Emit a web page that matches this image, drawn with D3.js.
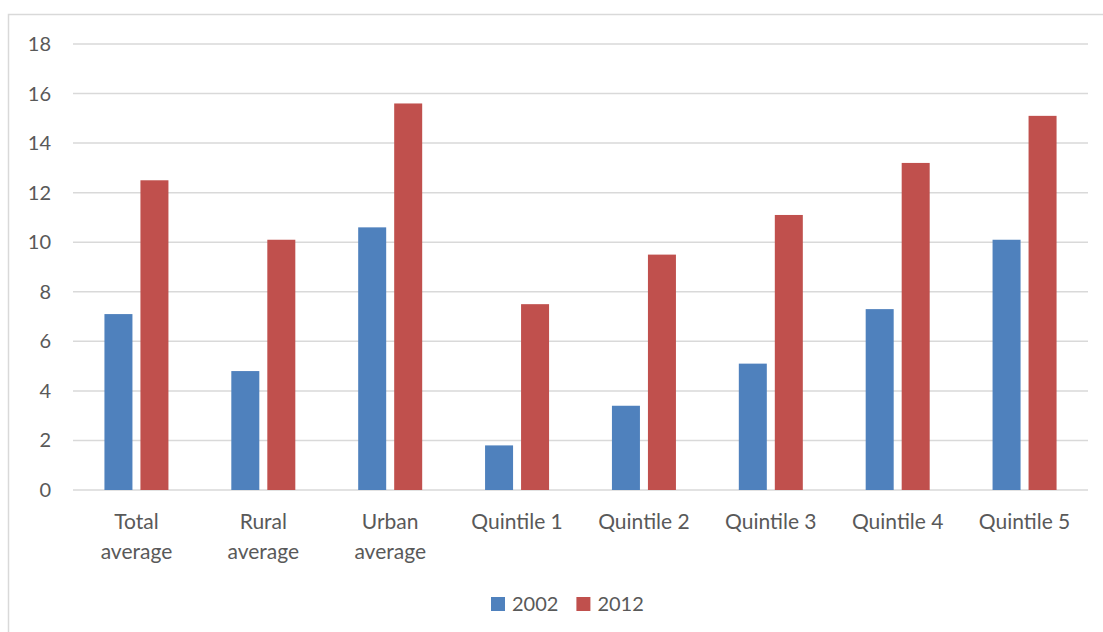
<!DOCTYPE html>
<html>
<head>
<meta charset="utf-8">
<script src="https://cdn.jsdelivr.net/npm/d3@7"></script>
<style>
  body { margin: 0; background: #fff; }
  text { font-family: Lato, "Open Sans", sans-serif; fill: #595959; }
</style>
</head>
<body>
<div id="chart"></div>
<script>
var categories = ['Total average', 'Rural average', 'Urban average', 'Quintile 1', 'Quintile 2', 'Quintile 3', 'Quintile 4', 'Quintile 5']
var seriesNames = ['2002', '2012']
var values2002 = [7.1, 4.8, 10.6, 1.8, 3.4, 5.1, 7.3, 10.1]
var values2012 = [12.5, 10.1, 15.6, 7.5, 9.5, 11.1, 13.2, 15.1]
var yTicks = [0, 2, 4, 6, 8, 10, 12, 14, 16, 18]
var colors = ['#4F81BD', '#C0504D']

function drawChart() {
  var width = 1103, height = 632
  var mLeft = 73, mRight = 1088, mTop = 44, mBottom = 490

  var svg = d3.select('#chart').append('svg')
    .attr('width', width)
    .attr('height', height)

  // chart frame
  svg.append('rect')
    .attr('x', 8.5).attr('y', 14.5)
    .attr('width', 1100).attr('height', 640)
    .attr('fill', 'none')
    .attr('stroke', '#D9D9D9')
    .attr('stroke-width', 1.5)

  var x = d3.scaleBand().domain(categories).range([mLeft, mRight])
  var y = d3.scaleLinear().domain([0, 18]).range([mBottom, mTop])

  // gridlines
  svg.append('g').selectAll('line')
    .data(yTicks)
    .enter().append('line')
      .attr('x1', mLeft).attr('x2', mRight)
      .attr('y1', function(d) { return y(d) }).attr('y2', function(d) { return y(d) })
      .attr('stroke', '#D9D9D9')
      .attr('stroke-width', 1.5)

  // y axis labels
  svg.append('g').selectAll('text')
    .data(yTicks)
    .enter().append('text')
      .attr('x', 51)
      .attr('y', function(d) { return y(d) })
      .attr('dy', '0.35em')
      .attr('text-anchor', 'end')
      .style('font-size', '20px')
      .text(function(d) { return d })

  var barW = 28, gap = 8
  var data = categories.map(function(c, i) { return { cat: c, vals: [values2002[i], values2012[i]] } })

  var groups = svg.append('g').selectAll('g')
    .data(data)
    .enter().append('g')

  groups.selectAll('rect')
    .data(function(d) { return d.vals.map(function(v, j) { return { cat: d.cat, v: v, j: j } }) })
    .enter().append('rect')
      .attr('x', function(d) {
        var c = x(d.cat) + x.bandwidth() / 2
        return d.j == 0 ? c - gap / 2 - barW : c + gap / 2
      })
      .attr('y', function(d) { return y(d.v) })
      .attr('width', barW)
      .attr('height', function(d) { return y(0) - y(d.v) })
      .attr('fill', function(d) { return colors[d.j] })

  // category labels, wrapped like the original
  var labels = svg.append('g').selectAll('text')
    .data(categories)
    .enter().append('text')
      .attr('text-anchor', 'middle')
      .attr('x', function(d) { return x(d) + x.bandwidth() / 2 })
      .attr('y', 529)
      .style('font-size', '21px')

  labels.each(function(d) {
    var parts = d.indexOf('average') > -1 ? d.split(' ') : [d]
    var t = d3.select(this)
    parts.forEach(function(p, i) {
      t.append('tspan')
        .attr('x', x(d) + x.bandwidth() / 2)
        .attr('dy', i == 0 ? 0 : 30)
        .text(p)
    })
  })

  // legend
  var legend = svg.append('g')
  var lx = 491
  seriesNames.forEach(function(name, i) {
    legend.append('rect')
      .attr('x', lx).attr('y', 597)
      .attr('width', 14).attr('height', 14)
      .attr('fill', colors[i])
    var t = legend.append('text')
      .attr('x', lx + 21).attr('y', 604)
      .attr('dy', '0.35em')
      .style('font-size', '20px')
      .text(name)
    lx += 21 + t.node().getComputedTextLength() + 18
  })
}

drawChart()
</script>
</body>
</html>
